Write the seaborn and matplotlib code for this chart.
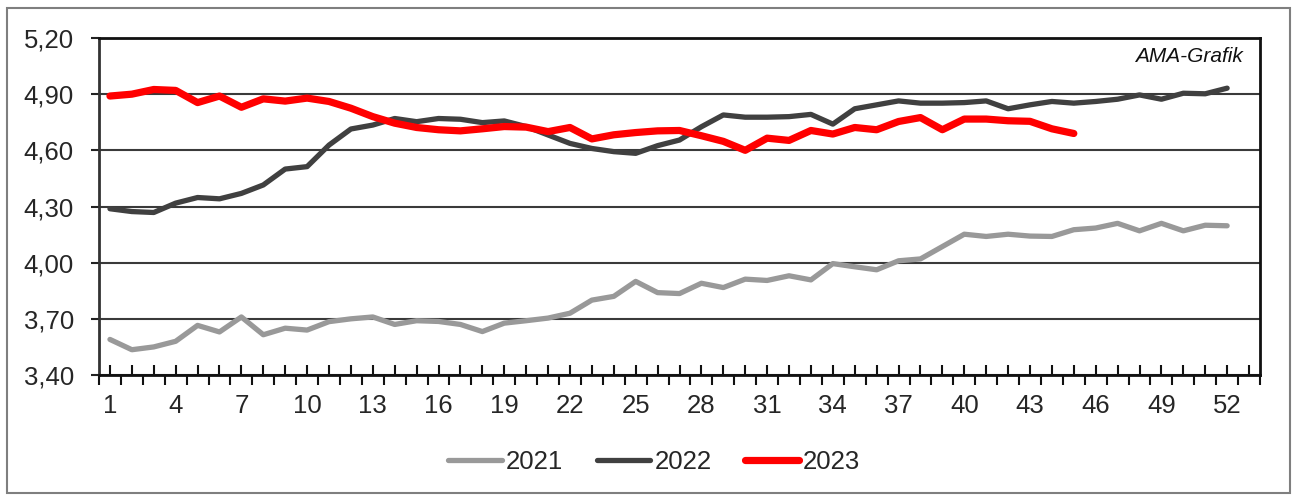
import matplotlib
matplotlib.use("Agg")
import matplotlib.pyplot as plt
from matplotlib.patches import Rectangle
from matplotlib.lines import Line2D
from matplotlib.ticker import FixedLocator, FixedFormatter
import seaborn as sns
import pandas as pd

weeks_2021 = list(range(1, 53))
values_2021 = [3.59, 3.535, 3.55, 3.58, 3.665, 3.63, 3.71, 3.615, 3.65, 3.64,
               3.685, 3.70, 3.71, 3.67, 3.69, 3.686, 3.67, 3.632, 3.677, 3.69,
               3.704, 3.73, 3.80, 3.82, 3.90, 3.84, 3.835, 3.89, 3.867, 3.912,
               3.905, 3.93, 3.908, 3.995, 3.978, 3.962, 4.01, 4.02, 4.086, 4.152,
               4.14, 4.152, 4.142, 4.14, 4.176, 4.185, 4.21, 4.17, 4.21, 4.17,
               4.20, 4.197]
weeks_2022 = list(range(1, 53))
values_2022 = [4.288, 4.273, 4.268, 4.318, 4.348, 4.341, 4.37, 4.415, 4.50, 4.513,
               4.628, 4.714, 4.735, 4.77, 4.753, 4.77, 4.766, 4.748, 4.757, 4.727,
               4.682, 4.637, 4.61, 4.593, 4.584, 4.625, 4.655, 4.726, 4.789, 4.777,
               4.777, 4.78, 4.792, 4.74, 4.822, 4.843, 4.864, 4.852, 4.852, 4.855,
               4.864, 4.822, 4.843, 4.861, 4.852, 4.861, 4.873, 4.896, 4.873, 4.905,
               4.902, 4.932]
weeks_2023 = list(range(1, 46))
values_2023 = [4.89, 4.90, 4.925, 4.92, 4.855, 4.89, 4.83, 4.875, 4.863, 4.879,
               4.861, 4.825, 4.78, 4.745, 4.722, 4.71, 4.704, 4.715, 4.727, 4.724,
               4.70, 4.722, 4.661, 4.683, 4.695, 4.704, 4.706, 4.678, 4.648, 4.60,
               4.665, 4.653, 4.706, 4.687, 4.722, 4.71, 4.754, 4.775, 4.71, 4.767,
               4.767, 4.758, 4.755, 4.715, 4.69]

series_names = ["2021", "2022", "2023"]
y_ticks = [3.40, 3.70, 4.00, 4.30, 4.60, 4.90, 5.20]
x_label_weeks = list(range(1, 53, 3))

colors = {"2021": "#999999", "2022": "#404040", "2023": "#ff0000"}
widths = {"2021": 3.8, "2022": 3.8, "2023": 5.2}

sns.set_style("white")
plt.rcParams["font.family"] = ["Liberation Sans", "DejaVu Sans"]

fig = plt.figure(figsize=(12.92, 4.95), dpi=100)
ax = fig.add_axes([99 / 1292, 1 - 375 / 495, (1260 - 99) / 1292, (375 - 38) / 495])

frames = [
    pd.DataFrame({"week": weeks_2021, "value": values_2021, "year": "2021"}),
    pd.DataFrame({"week": weeks_2022, "value": values_2022, "year": "2022"}),
    pd.DataFrame({"week": weeks_2023, "value": values_2023, "year": "2023"}),
]
for df in frames:
    name = df["year"].iloc[0]
    sns.lineplot(data=df, x="week", y="value", ax=ax, color=colors[name],
                 linewidth=widths[name], solid_capstyle="round",
                 solid_joinstyle="round", legend=False, zorder=3)

ax.set_xlim(0.5, 53.5)
ax.set_ylim(3.40, 5.20)
ax.set_xlabel("")
ax.set_ylabel("")

# y axis
ax.set_yticks(y_ticks)
ax.set_yticklabels([f"{v:.2f}".replace(".", ",") for v in y_ticks], fontsize=18.5)
ax.tick_params(axis="y", direction="out", length=6, width=1.5, color="#222222",
               pad=12, left=True)
ax.yaxis.grid(True, color="#3a3a3a", linewidth=1.5)
ax.set_axisbelow(True)

# x axis: major ticks at category boundaries (out), minor at centres (in, labelled)
ax.xaxis.set_major_locator(FixedLocator([i + 0.5 for i in range(0, 54)]))
ax.xaxis.set_major_formatter(FixedFormatter([""] * 54))
minor_pos = list(range(1, 54))
ax.xaxis.set_minor_locator(FixedLocator(minor_pos))
ax.xaxis.set_minor_formatter(FixedFormatter(
    [str(w) if w in x_label_weeks else "" for w in minor_pos]))
ax.tick_params(axis="x", which="major", direction="out", length=7, width=1.5,
               color="#111111", bottom=True)
ax.tick_params(axis="x", which="minor", direction="in", length=7, width=1.5,
               color="#111111", bottom=True, labelsize=18.5, pad=14)

for side in ["left", "right", "top", "bottom"]:
    ax.spines[side].set_visible(True)
    ax.spines[side].set_color("#111111")
    ax.spines[side].set_linewidth(2)
ax.spines["left"].set_color("#333333")

ax.text(0.985, 0.945, "AMA-Grafik", transform=ax.transAxes, ha="right",
        va="center", fontsize=15, fontstyle="italic", color="#111111")

handles = [Line2D([0], [0], color=colors[n], linewidth=widths[n],
                  solid_capstyle="round") for n in series_names]
fig.legend(handles, series_names, loc="center", bbox_to_anchor=(654 / 1292, 1 - 462 / 495),
           ncol=3, frameon=False, fontsize=18.5, handlelength=2.1,
           handletextpad=0.15, columnspacing=1.3)

fig.patches.append(Rectangle((7 / 1292, 2 / 495), (1290 - 7) / 1292, (493 - 8) / 495,
                             transform=fig.transFigure, fill=False,
                             edgecolor="#7f7f7f", linewidth=1.5))

fig.savefig("out.png", dpi=100)
